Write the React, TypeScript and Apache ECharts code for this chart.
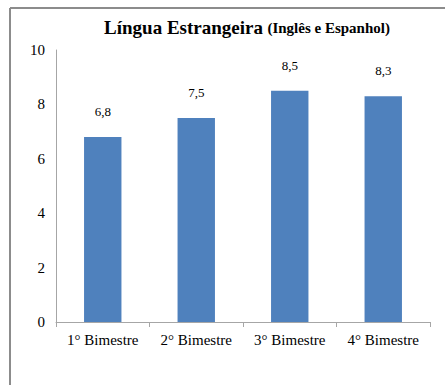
import React, { useEffect, useRef } from "react";
import * as echarts from "echarts";

const categories = ["1° Bimestre", "2° Bimestre", "3° Bimestre", "4° Bimestre"];
const values = [6.8, 7.5, 8.5, 8.3];
const yTicks = { min: 0, max: 10, interval: 2 };

export default function App() {
  const ref = useRef<HTMLDivElement>(null);
  useEffect(() => {
    if (!ref.current) return;
    const chart = echarts.init(ref.current, null, { renderer: "svg" });
    const font = "Liberation Serif";
    chart.setOption({
      animation: false,
      backgroundColor: "#ffffff",
      textStyle: { fontFamily: font },
      title: {
        text: "{a|Língua Estrangeira} {b|(Inglês e Espanhol)}",
        left: 242,
        textAlign: "center",
        top: 13,
        textStyle: {
          fontFamily: font,
          rich: {
            a: { fontFamily: font, fontSize: 19, fontWeight: "bold", color: "#000" },
            b: { fontFamily: font, fontSize: 15, fontWeight: "bold", color: "#000" },
          },
        },
      },
      grid: { left: 56, right: 15, top: 50, bottom: 63, containLabel: false },
      xAxis: {
        type: "category",
        data: categories,
        axisLine: { lineStyle: { color: "#a6a6a6", width: 1 } },
        axisTick: { show: true, length: 5, lineStyle: { color: "#a6a6a6" } },
        axisLabel: { color: "#000", fontSize: 15, fontFamily: font, margin: 10 },
      },
      yAxis: {
        type: "value",
        min: yTicks.min,
        max: yTicks.max,
        interval: yTicks.interval,
        axisLine: { show: true, lineStyle: { color: "#a6a6a6", width: 1 } },
        axisTick: { show: false },
        splitLine: { show: false },
        axisLabel: { color: "#000", fontSize: 15, fontFamily: font, margin: 11 },
      },
      series: [
        {
          type: "bar",
          data: values,
          barWidth: "40%",
          itemStyle: { color: "#4F81BD" },
          label: {
            show: true,
            position: "top",
            distance: 19,
            color: "#000",
            fontSize: 13,
            fontFamily: font,
            formatter: (p: any) => String(p.value).replace(".", ","),
          },
        },
      ],
      graphic: [
        {
          type: "line",
          shape: { x1: 10, y1: 8, x2: 445, y2: 8 },
          style: { stroke: "#8c8c8c", lineWidth: 2 },
        },
        {
          type: "line",
          shape: { x1: 10, y1: 8, x2: 10, y2: 385 },
          style: { stroke: "#8c8c8c", lineWidth: 2 },
        },
      ],
    });
    return () => chart.dispose();
  }, []);
  return (
    <div
      ref={ref}
      style={{ position: "fixed", left: 0, top: 0, width: 445, height: 385 }}
    />
  );
}
